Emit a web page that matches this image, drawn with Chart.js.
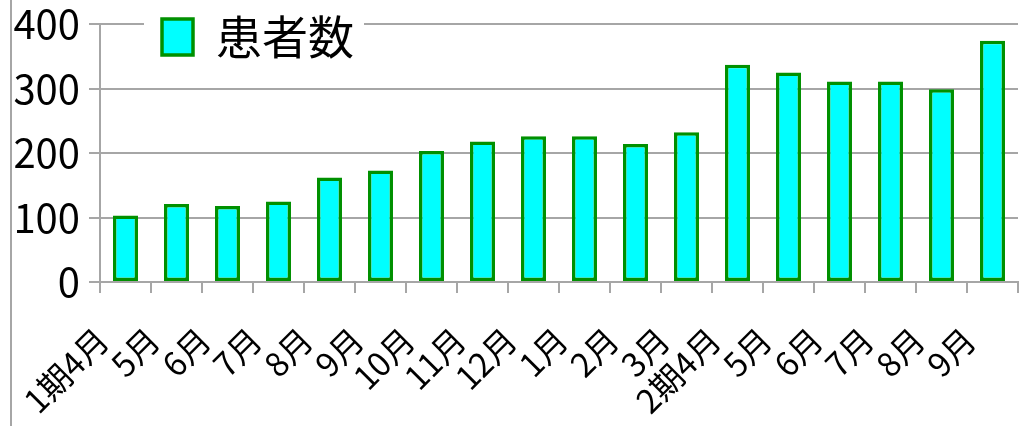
<!DOCTYPE html>
<html>
<head>
<meta charset="utf-8">
<script src="https://cdn.jsdelivr.net/npm/chart.js@4"></script>
<style>
  body { margin: 0; background: #fff; }
  #wrap { position: relative; width: 1029px; height: 426px; }
  #edge { position: absolute; left: 10px; top: 0; width: 2px; height: 426px; background: #a6a6a6; }
</style>
</head>
<body>
<div id="wrap">
  <canvas id="barChart" width="1029" height="426"></canvas>
  <div id="edge"></div>
</div>
<script>
const labelBar = ["1期4月", "5月", "6月", "7月", "8月", "9月", "10月", "11月", "12月",
  "1月", "2月", "3月", "2期4月", "5月", "6月", "7月", "8月", "9月"];
const dataBar = [103, 121, 118, 125, 162, 173, 203, 218, 226, 226, 214, 232,
  337, 325, 311, 311, 299, 374];
const yTicks = [0, 100, 200, 300, 400];

const gray = "#a6a6a6";
const numFont = "'Liberation Sans Narrow', 'Noto Sans CJK JP', sans-serif";

// legend sits on top of the plot, over the 400 line
const legendOnPlot = {
  id: "legendOnPlot",
  afterLayout(chart) {
    const lg = chart.legend;
    lg.left = chart.chartArea.left + 52;
    lg.top = chart.chartArea.top - 20;
  },
  afterDatasetsDraw(chart) {
    const lg = chart.legend;
    const o = lg.options.labels;
    const h = Math.max(o.boxHeight, o.font.size) + 2 * o.padding;
    const ctx = chart.ctx;
    ctx.save();
    ctx.fillStyle = "#fff";
    ctx.fillRect(lg.left - 8, lg.top, lg.width + 8, h);
    ctx.restore();
    lg.draw();
  }
};

const barChart = document.querySelector("#barChart");
const graph = new Chart(barChart, {
  type: "bar",
  data: {
    labels: labelBar,
    datasets: [
      {
        label: "患者数",
        data: dataBar,
        backgroundColor: "#00ffff",
        borderColor: "#009000",
        borderWidth: 3.5,
        borderSkipped: false,
        barPercentage: 0.49,
        categoryPercentage: 1,
      },
    ],
  },
  options: {
    responsive: false,
    animation: false,
    layout: { padding: { left: 10, right: 11, top: 24, bottom: 0 } },
    plugins: {
      tooltip: { enabled: false },
      legend: {
        position: "chartArea",
        align: "start",
        labels: {
          boxWidth: 31,
          boxHeight: 36,
          padding: 10,
          color: "#000",
          font: { family: "'Noto Sans CJK JP', sans-serif", size: 46 },
        },
      },
    },
    scales: {
      x: {
        offset: true,
        grid: { drawOnChartArea: false, drawTicks: true, tickLength: 11, color: gray, lineWidth: 2, offset: true },
        border: { color: gray, width: 2 },
        ticks: {
          autoSkip: false,
          minRotation: 45,
          maxRotation: 45,
          labelOffset: -23,
          padding: 27,
          color: "#000",
          font: { family: numFont, size: 33 },
        },
        afterFit(s) {
          s.height = 144;
          s.paddingLeft = 0;
          s.paddingRight = 0;
        },
      },
      y: {
        min: 0,
        max: 400,
        grid: { color: gray, lineWidth: 2, tickLength: 11, z: -1 },
        border: { color: gray, width: 2 },
        ticks: {
          padding: 9,
          color: "#000",
          font: { family: numFont, size: 40, lineHeight: 1 },
        },
        afterBuildTicks(s) { s.ticks = yTicks.map(v => ({ value: v })); },
        afterFit(s) {
          s.width = 90;
          s.paddingTop = 0;
          s.paddingBottom = 0;
        },
      },
    },
  },
  plugins: [legendOnPlot],
});
</script>
</body>
</html>
